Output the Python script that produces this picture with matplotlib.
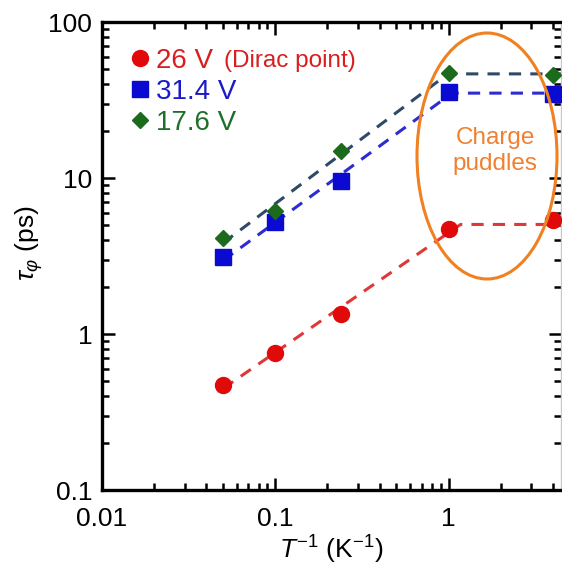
import numpy as np
import matplotlib
matplotlib.use("Agg")
import matplotlib.pyplot as plt
from matplotlib.patches import Ellipse

# data (x = 1/T in 1/K, y = tau_phi in ps)
inv_T = [0.05, 0.1, 0.24, 1.0, 4.0]
tau_26 = [0.47, 0.76, 1.35, 4.7, 5.4]      # 26 V (Dirac point)
tau_314 = [3.1, 5.2, 9.6, 35.5, 34.5]      # 31.4 V
tau_176 = [4.1, 6.1, 14.9, 47.0, 46.0]     # 17.6 V
labels = ["26 V", "31.4 V", "17.6 V"]

plt.rcParams["font.family"] = ["Liberation Sans", "DejaVu Sans"]
plt.rcParams["mathtext.fontset"] = "custom"
plt.rcParams["mathtext.rm"] = "Liberation Sans"
plt.rcParams["mathtext.it"] = "Liberation Sans:italic"

W, H = 562, 568
fig = plt.figure(figsize=(W / 100, H / 100), dpi=100)
# axes box in pixels: left 102, right 561, top 22, bottom 490
ax = fig.add_axes([102 / W, 1 - 490 / H, 459 / W, 468 / H])
ax.set_xscale("log")
ax.set_yscale("log")
ax.set_xlim(0.01, 4.45)
ax.set_ylim(0.1, 100)


def fit_line(x, y):
    """power-law fit on the rising part, flat after the crossover"""
    lx, ly = np.log10(x), np.log10(y)
    k, b = np.polyfit(lx[:4], ly[:4], 1)
    level = ly[3:].mean()
    x_cross = (level - b) / k
    xs = [lx[0], x_cross, np.log10(12)]
    ys = [k * lx[0] + b, level, level]
    return 10 ** np.array(xs), 10 ** np.array(ys)


series = [
    (tau_26, "o", "#e00a0a", "#e03838", "#d81e1e", 11.5),
    (tau_314, "s", "#0a0ad0", "#2c2cd0", "#1a1ac8", 11.5),
    (tau_176, "D", "#1c6b1c", "#2e4a66", "#1f6e2a", 8.5),
]
handles = []
for (vals, mk, mc, lc, tc, ms), lab in zip(series, labels):
    fx, fy = fit_line(inv_T, vals)
    ax.plot(fx, fy, "--", color=lc, lw=2.2, dashes=(4, 3), zorder=2,
            clip_on=True)
    h, = ax.plot(inv_T, vals, mk, color=mc, ms=ms, mec=mc, ls="none",
                 zorder=3, label=lab, clip_on=False)
    handles.append(h)

leg = ax.legend(handles=handles, loc="upper left", frameon=False,
                fontsize=20, handletextpad=0.15, handlelength=0.9,
                borderaxespad=0.0, borderpad=0.0, labelspacing=0.18,
                bbox_to_anchor=(25 / 459, 1 - 26 / 468))
for t, s in zip(leg.get_texts(), series):
    t.set_color(s[4])

fig.canvas.draw()
bb = leg.get_texts()[0].get_window_extent()
fig.text((bb.x1 + 11) / fig.bbox.width, (bb.y0 + bb.y1) / 2 / fig.bbox.height,
         "(Dirac point)", color="#d81e1e", fontsize=17.5, va="center")

# charge puddles region
ell = Ellipse((487 / W, 1 - 156 / H), 140 / W, 246 / H,
              transform=fig.transFigure, fill=False, ec="#f08020", lw=2.2,
              zorder=4)
fig.patches.append(ell)
fig.text(495 / W, 1 - 151 / H, "Charge\npuddles", color="#f08030",
         fontsize=17.5, ha="center", va="center", linespacing=1.2)

ax.set_xticks([0.01, 0.1, 1])
ax.set_xticklabels(["0.01", "0.1", "1"])
ax.set_yticks([0.1, 1, 10, 100])
ax.set_yticklabels(["0.1", "1", "10", "100"])
ax.tick_params(which="both", direction="in", top=True, right=True,
               width=1.8, labelsize=19)
ax.tick_params(which="major", length=9, pad=7)
ax.tick_params(which="minor", length=5)
ax.tick_params(axis="x", which="major", pad=12)
for sp in ax.spines.values():
    sp.set_linewidth(2.4)
ax.spines["right"].set_color("#c8c8c8")
ax.spines["right"].set_linewidth(1.0)

ax.set_xlabel(r"$T^{-1}$ (K$^{-1}$)", fontsize=19)
ax.xaxis.set_label_coords(229 / 459, -(559 - 490) / 468)
ax.xaxis.label.set_va("baseline")
ax.set_ylabel(r"$\tau_\varphi$ (ps)", fontsize=19)
ax.yaxis.set_label_coords(-(102 - 29) / 459, (490 - 243) / 468)
ax.yaxis.label.set_va("center")

fig.savefig("out.png", dpi=100)
